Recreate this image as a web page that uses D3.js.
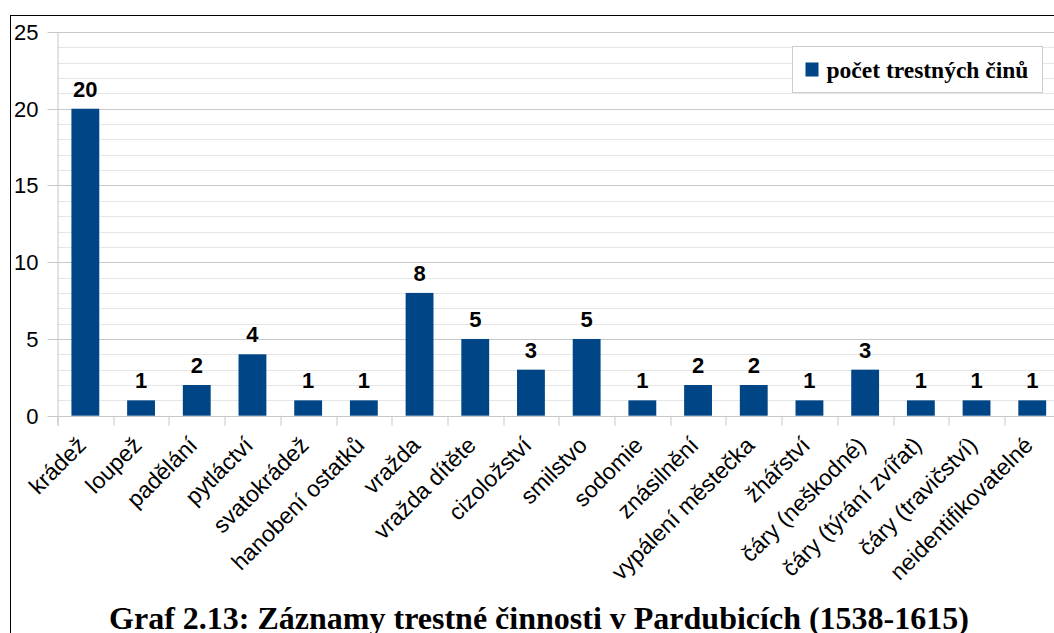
<!DOCTYPE html>
<html>
<head>
<meta charset="utf-8">
<script src="https://cdn.jsdelivr.net/npm/d3@7"></script>
<style>
  body { margin: 0; background: #fff; }
  svg { display: block; }
</style>
</head>
<body>
<div id="chart"></div>
<script>
// data
var categories = ["krádež", "loupež", "padělání", "pytláctví", "svatokrádež", "hanobení ostatků",
    "vražda", "vražda dítěte", "cizoložství", "smilstvo", "sodomie", "znásilnění",
    "vypálení městečka", "žhářství", "čáry (neškodné)", "čáry (týrání zvířat)",
    "čáry (travičství)", "neidentifikovatelné"];
var counts = [20, 1, 2, 4, 1, 1, 8, 5, 3, 5, 1, 2, 2, 1, 3, 1, 1, 1];
var yTicks = [0, 5, 10, 15, 20, 25];
var seriesName = "počet trestných činů";
var title = "Graf 2.13: Záznamy trestné činnosti v Pardubicích (1538-1615)";

var svgWidth = 1054;
var svgHeight = 633;
var margin = { top: 32, left: 57.5, bottom: 633 - 415.7 };
var plotWidth = 18 * 55.7;
var height = svgHeight - margin.top - margin.bottom;

var svg = d3.select("#chart").append("svg")
    .attr("width", svgWidth)
    .attr("height", svgHeight);

// frame around the whole figure
svg.append("rect")
    .attr("x", 10.5).attr("y", 15.5)
    .attr("width", 1100).attr("height", 700)
    .attr("fill", "none").attr("stroke", "#000").attr("stroke-width", 1);

var chartGroup = svg.append("g")
    .attr("transform", `translate(${margin.left}, ${margin.top})`);

var x = d3.scaleBand()
    .domain(categories)
    .range([0, plotWidth])
    .paddingInner(0.5)
    .paddingOuter(0.25);

var y = d3.scaleLinear()
    .domain([0, 25])
    .range([height, 0]);

// minor grid every 1
chartGroup.append("g")
    .selectAll("line")
    .data(d3.range(1, 26).filter(d => d % 5 !== 0))
    .enter().append("line")
    .attr("x1", 0).attr("x2", plotWidth)
    .attr("y1", d => Math.round(y(d)) + 0.5).attr("y2", d => Math.round(y(d)) + 0.5)
    .attr("stroke", "#e6e6e6");

// major grid
chartGroup.append("g")
    .selectAll("line")
    .data(yTicks)
    .enter().append("line")
    .attr("x1", -10).attr("x2", plotWidth)
    .attr("y1", d => Math.round(y(d)) + 0.5).attr("y2", d => Math.round(y(d)) + 0.5)
    .attr("stroke", "#c8c8c8");

// y axis line
chartGroup.append("line")
    .attr("x1", 0.5).attr("x2", 0.5)
    .attr("y1", 0).attr("y2", height + 10)
    .attr("stroke", "#c8c8c8");

// y tick labels
chartGroup.append("g")
    .selectAll("text")
    .data(yTicks)
    .enter().append("text")
    .attr("x", -19)
    .attr("y", d => y(d))
    .attr("dy", "0.36em")
    .attr("text-anchor", "end")
    .attr("font-family", "Liberation Sans, Arial, sans-serif")
    .attr("font-size", "22px")
    .attr("fill", "#000")
    .text(d => d);

// x ticks between categories
var step = x.step();
chartGroup.append("g")
    .selectAll("line")
    .data(d3.range(0, categories.length + 1))
    .enter().append("line")
    .attr("x1", d => Math.round(d * step) + 0.5).attr("x2", d => Math.round(d * step) + 0.5)
    .attr("y1", height).attr("y2", height + 10)
    .attr("stroke", "#c8c8c8");

// bars
chartGroup.append("g")
    .selectAll("rect")
    .data(counts)
    .enter().append("rect")
    .attr("x", (d, i) => x(categories[i]))
    .attr("y", d => y(d))
    .attr("width", x.bandwidth())
    .attr("height", d => height - y(d))
    .attr("fill", "#004586");

// value labels
chartGroup.append("g")
    .selectAll("text")
    .data(counts)
    .enter().append("text")
    .attr("x", (d, i) => x(categories[i]) + x.bandwidth() / 2)
    .attr("y", d => y(d) - 12)
    .attr("text-anchor", "middle")
    .attr("font-family", "Liberation Sans, Arial, sans-serif")
    .attr("font-weight", "bold")
    .attr("font-size", "22px")
    .attr("fill", "#000")
    .text(d => d);

// category labels, rotated
chartGroup.append("g")
    .selectAll("text")
    .data(categories)
    .enter().append("text")
    .attr("transform", d => `translate(${x(d) + x.bandwidth() / 2 + 2}, ${height + 31}) rotate(-45)`)
    .attr("text-anchor", "end")
    .attr("font-family", "Liberation Sans, Arial, sans-serif")
    .attr("font-size", "23px")
    .attr("fill", "#000")
    .text(d => d);

// legend
var legend = svg.append("g").attr("transform", "translate(792.5, 46.5)");
legend.append("rect")
    .attr("width", 250).attr("height", 46)
    .attr("fill", "#fff").attr("stroke", "#cccccc");
legend.append("rect")
    .attr("x", 13).attr("y", 16)
    .attr("width", 13).attr("height", 14)
    .attr("fill", "#004586");
legend.append("text")
    .attr("x", 34).attr("y", 31)
    .attr("font-family", "Liberation Serif, Times New Roman, serif")
    .attr("font-weight", "bold")
    .attr("font-size", "23.5px")
    .attr("fill", "#000")
    .text(seriesName);

// caption below
svg.append("text")
    .attr("x", 539)
    .attr("y", 629)
    .attr("text-anchor", "middle")
    .attr("font-family", "Liberation Serif, Times New Roman, serif")
    .attr("font-weight", "bold")
    .attr("font-size", "32px")
    .attr("fill", "#000")
    .text(title);
</script>
</body>
</html>
